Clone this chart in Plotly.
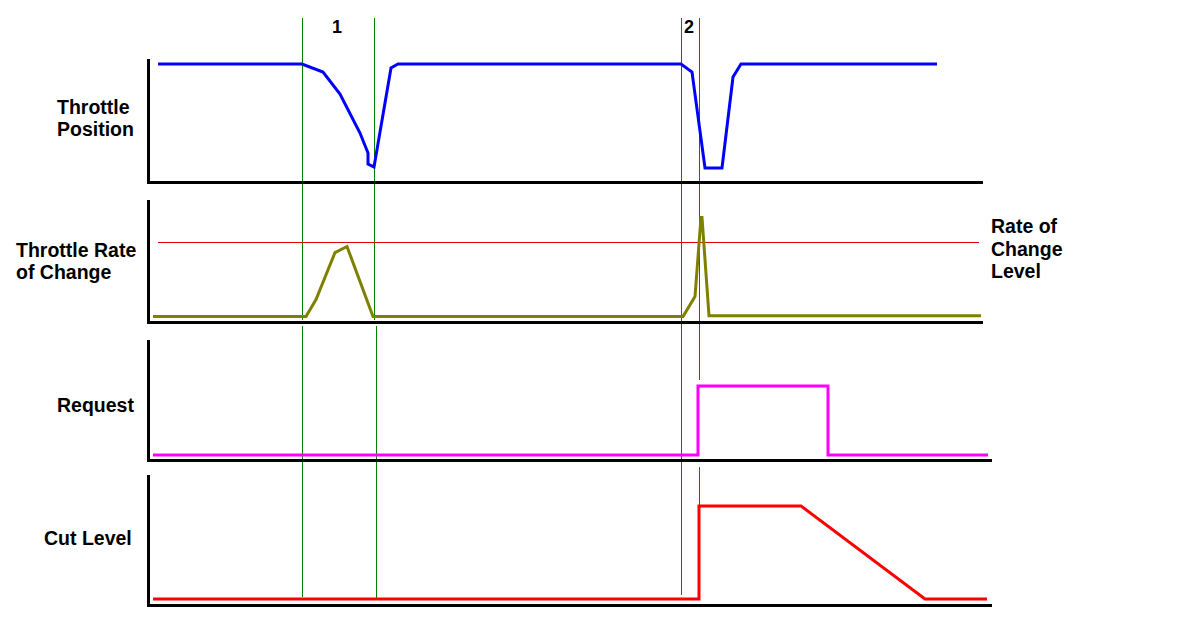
import plotly.graph_objects as go

W, H = 1195, 634

# ---------------- data (time in arbitrary units) ----------------
throttle_t = [0.8, 15.2, 17.3, 19.0, 21.0, 21.8, 21.8, 22.4, 24.1, 24.8,
              53.1, 54.2, 55.5, 57.2, 58.3, 59.1, 78.7]
throttle_pos = [100, 100, 93.2, 74.4, 41.0, 23.9, 14.5, 12.0, 96.6, 100,
                100, 93.2, 11.1, 11.1, 88.9, 100, 100]

rate_t = [0.3, 15.6, 16.6, 18.5, 19.7, 22.3, 53.3, 54.5, 55.1, 55.2, 55.9, 83.1]
rate_val = [0, 0, 11.5, 43.2, 47.3, 0, 0, 13.5, 66.9, 66.9, 0.5, 0.5]

rate_level_t = [0.8, 82.9]
rate_level = [50, 50]

request_t = [0.3, 54.8, 54.8, 67.8, 67.8, 83.8]
request_val = [0, 0, 1, 1, 0, 0]

cut_t = [0.3, 54.9, 54.9, 65.1, 77.5, 83.7]
cut_val = [0, 0, 100, 100, 0, 0]

event_labels = ["1", "2"]
event_label_t = [18.7, 53.9]

# event marker line times and their vertical extents (top px, bottom px)
marker_t = [15.25, 15.25, 22.45, 22.65, 53.15, 54.95, 54.95]

# ---------------- layout helpers ----------------
def px_x(p):
    return p / W

def px_y(p):
    return 1 - p / H

FONT = "Liberation Sans, Arial, sans-serif"

fig = go.Figure()

fig.add_trace(go.Scatter(x=throttle_t, y=throttle_pos, mode="lines",
                         line=dict(color="#0000FF", width=3), xaxis="x", yaxis="y",
                         name="Throttle Position"))
fig.add_trace(go.Scatter(x=rate_level_t, y=rate_level, mode="lines",
                         line=dict(color="#E00000", width=1), xaxis="x2", yaxis="y2",
                         name="Rate of Change Level"))
fig.add_trace(go.Scatter(x=rate_t, y=rate_val, mode="lines",
                         line=dict(color="#808000", width=3), xaxis="x2", yaxis="y2",
                         name="Throttle Rate of Change"))
fig.add_trace(go.Scatter(x=request_t, y=request_val, mode="lines",
                         line=dict(color="#FF00FF", width=3), xaxis="x3", yaxis="y3",
                         name="Request"))
fig.add_trace(go.Scatter(x=cut_t, y=cut_val, mode="lines",
                         line=dict(color="#FF0000", width=3), xaxis="x4", yaxis="y4",
                         name="Cut Level"))

axis_common = dict(showline=True, linecolor="black", linewidth=3, showgrid=False,
                   zeroline=False, showticklabels=False, ticks="", fixedrange=True)

# panel pixel boxes: (x_left, x_right, y_top, y_bottom)
panels = [(150, 983, 59, 181), (150, 983, 200, 321), (150, 992, 340, 459), (150, 992, 475, 604)]
yranges = [[0, 104.3], [-3.04, 78.71], [-0.058, 1.667], [-5.4, 133.3]]

layout = dict(width=W, height=H, margin=dict(l=0, r=0, t=0, b=0),
              paper_bgcolor="white", plot_bgcolor="white", showlegend=False)
for i, ((xl, xr, yt, yb), yr) in enumerate(zip(panels, yranges)):
    sx = "" if i == 0 else str(i + 1)
    layout["xaxis" + sx] = dict(axis_common, domain=[px_x(xl), px_x(xr)],
                                range=[0, (xr - xl) / 10], anchor="y" + sx)
    layout["yaxis" + sx] = dict(axis_common, domain=[px_y(yb), px_y(yt)],
                                range=yr, anchor="x" + sx)
fig.update_layout(**layout)

marker_extent = [(18, 320), (326, 597), (18, 320), (326, 598), (18, 595), (18, 380), (467, 506)]
for t, (y0, y1) in zip(marker_t, marker_extent):
    fig.add_shape(type="line", xref="x", yref="paper", x0=t, x1=t,
                  y0=px_y(y1), y1=px_y(y0), layer="below",
                  line=dict(color="#008000", width=1))

# event numbers
for lab, t in zip(event_labels, event_label_t):
    fig.add_annotation(x=t, xref="x", y=px_y(27), yref="paper", text="<b>%s</b>" % lab,
                       showarrow=False, xanchor="center", yanchor="middle",
                       font=dict(family=FONT, size=18, color="black"))

# labels: (text, x px, y px)
side_labels = [("Throttle", 55, 107), ("Position", 55, 129),
               ("Throttle Rate", 14, 250), ("of Change", 14, 272),
               ("Request", 55, 405), ("Cut Level", 42, 538),
               ("Rate of", 989, 226), ("Change", 989, 249), ("Level", 989, 271)]
for txt, x, y in side_labels:
    fig.add_annotation(x=px_x(x), xref="paper", y=px_y(y), yref="paper",
                       text="<b>%s</b>" % txt, showarrow=False,
                       xanchor="left", yanchor="middle",
                       font=dict(family=FONT, size=19.5, color="black"))

fig.write_html("out.html", config={"displayModeBar": False},
               post_script="document.body.style.margin='0';document.body.style.overflow='hidden';")
